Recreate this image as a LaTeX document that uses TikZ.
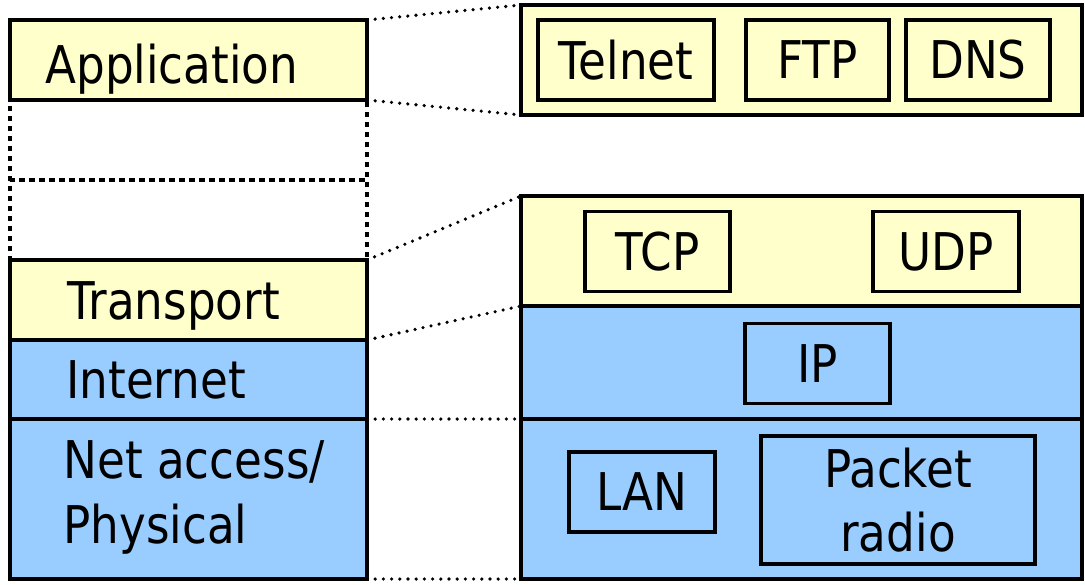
\documentclass[tikz,border=0pt]{standalone}
\usepackage{fontspec}
\setmainfont[FakeStretch=0.87]{DejaVu Sans}
\begin{document}
\begin{tikzpicture}[x=0.5pt,y=-0.5pt,
		layer/.style={draw, line width=2pt, minimum width=178.5pt, inner sep=0pt, outer sep=0pt},
		stack/.style={draw, line width=2pt, minimum width=280.5pt, inner sep=0pt, outer sep=0pt},
		gap/.style={draw, line width=2.2pt, dash pattern=on 2.4pt off 2.6pt, minimum width=178.5pt, minimum height=40pt, inner sep=0pt},
		proto/.style={draw, line width=1.6pt, inner sep=0pt, outer sep=0pt, minimum height=40pt, align=center, font=\fontsize{26pt}{32pt}\selectfont},
		lbl/.style={inner sep=0pt, align=left, font=\fontsize{26pt}{32.5pt}\selectfont},
		link/.style={line width=1.8pt, line cap=round, dash pattern=on 0pt off 4.1pt}]
		% Define colors
		\definecolor{appyellow}{RGB}{255,255,204}
		\definecolor{netblue}{RGB}{153,204,255}
		\useasboundingbox (0,0) rectangle (1085,584);
		% Left column (layers)
		\node[gap] (gapA) at (188.5,140) {};
		\node[gap] (gapB) at (188.5,220) {};
		\node[layer, fill=appyellow, minimum height=40pt] (app) at (188.5,60) {};
		\node[layer, fill=appyellow, minimum height=40pt] (trans) at (188.5,300) {};
		\node[layer, fill=netblue, minimum height=39.5pt] (inet) at (188.5,379.5) {};
		\node[layer, fill=netblue, minimum height=80pt] (nacc) at (188.5,499) {};
		\node[lbl, anchor=base west] (appL) at (45,83) {Application};
		\node[lbl, anchor=base west] (transL) at (67,319) {Transport};
		\node[lbl, anchor=base west] (inetL) at (66,398) {Internet};
		\node[lbl, anchor=west] (naccL) at (63,497) {Net access/\\Physical};
		% Right column (protocols)
		\node[stack, fill=appyellow, minimum height=55pt] (appR) at (801.5,60) {};
		\node[stack, fill=appyellow, minimum height=55pt] (transR) at (801.5,251) {};
		\node[stack, fill=netblue, minimum height=56.5pt] (inetR) at (801.5,362.5) {};
		\node[stack, fill=netblue, minimum height=80pt] (naccR) at (801.5,499) {};
		\node[proto, minimum width=88pt] (telnet) at (626,60) {Telnet};
		\node[proto, minimum width=71.5pt] (ftp) at (817.5,60) {FTP};
		\node[proto, minimum width=72pt] (dns) at (978,60) {DNS};
		\node[proto, minimum width=72.5pt] (tcp) at (657.5,251.5) {TCP};
		\node[proto, minimum width=73pt] (udp) at (946,251.5) {UDP};
		\node[proto, minimum width=72.5pt] (ip) at (817.5,363.5) {IP};
		\node[proto, minimum width=73pt] (lan) at (642,492) {LAN};
		\node[proto, minimum width=137pt, minimum height=64pt] (radio) at (898,500) {Packet\\radio};
		% Dotted links
		\draw[link] (app.north east) -- (appR.north west);
		\draw[link] (app.south east) -- (appR.south west);
		\draw[link] (trans.north east) -- (transR.north west);
		\draw[link] (trans.south east) -- (inetR.north west);
		\draw[link] (inet.south east) -- (naccR.north west);
		\draw[link] (nacc.south east) -- (naccR.south west);
	\end{tikzpicture}
\end{document}
